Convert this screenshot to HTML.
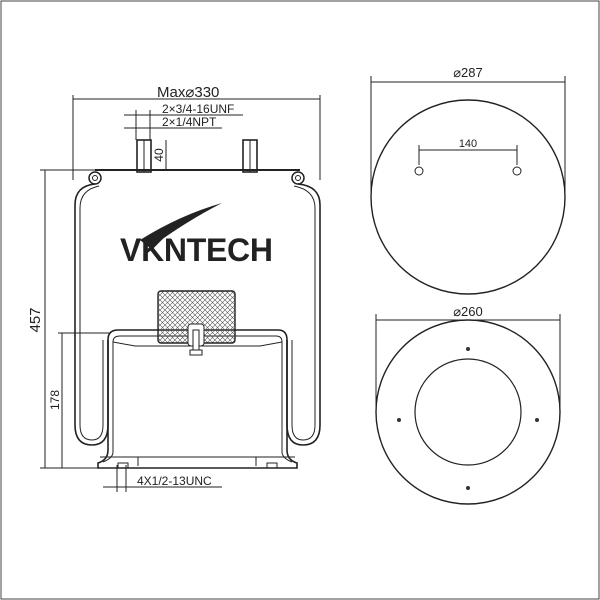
<!DOCTYPE html>
<html><head><style>body{margin:0;background:#fff}svg{display:block}text{font-family:"Liberation Sans",sans-serif;fill:#222}</style></head>
<body>
<svg width="600" height="600" viewBox="0 0 600 600" xmlns="http://www.w3.org/2000/svg">
<defs>
<pattern id="h" width="5" height="5" patternUnits="userSpaceOnUse"><path d="M0 0L5 5M5 0L0 5" stroke="#555" stroke-width="0.6"/></pattern>
</defs>
<rect x="1" y="1" width="598" height="598" fill="none" stroke="#444" stroke-width="1"/>
<g stroke="#222" fill="none" stroke-width="1">
<line x1="73" y1="99" x2="320" y2="99"/><line x1="73" y1="95" x2="73" y2="180"/><line x1="320" y1="95" x2="320" y2="180"/>
<line x1="124" y1="115" x2="243" y2="115"/><line x1="124" y1="128" x2="222" y2="128"/>
<line x1="136" y1="110" x2="136" y2="140"/><line x1="150" y1="110" x2="150" y2="140"/>
<line x1="166" y1="140" x2="166" y2="170"/>
<line x1="40" y1="170" x2="100" y2="170"/><line x1="45" y1="170" x2="45" y2="468"/><line x1="40" y1="468" x2="100" y2="468"/>
<line x1="58" y1="333" x2="110" y2="333"/><line x1="62" y1="333" x2="62" y2="468"/>
<line x1="95" y1="170" x2="300" y2="170" stroke-width="2"/>
<rect x="137" y="140" width="14" height="32" stroke-width="1.6"/><line x1="144" y1="140" x2="144" y2="172"/>
<rect x="243" y="140" width="14" height="32" stroke-width="1.6"/><line x1="250" y1="140" x2="250" y2="172"/>
<circle cx="95" cy="178" r="6" stroke-width="1.5"/><circle cx="95" cy="178" r="2.5"/>
<circle cx="298" cy="178" r="6" stroke-width="1.5"/><circle cx="298" cy="178" r="2.5"/>
<path d="M95 184 Q75 186 75 205 L75 425 Q75 445 92 445 Q108 445 108 425 L108 340" stroke-width="1.6"/>
<path d="M99 186 Q80 190 80 208 L80 425 Q80 440 92 440 Q103 440 103 425 L103 340"/>
<path d="M298 184 Q320 186 320 205 L320 425 Q320 445 303 445 Q287 445 287 425 L287 340" stroke-width="1.6"/>
<path d="M294 186 Q315 190 315 208 L315 425 Q315 440 303 440 Q292 440 292 425 L292 340"/>
<path d="M108 340 Q108 330 118 330 L278 330 Q287 330 287 340" stroke-width="1.6"/>
<path d="M113 342 Q113 336 120 336 L276 336 Q282 336 282 342"/>
<path d="M113 342 L135 346 L260 346 L282 342"/>
<path d="M108 340 L108 450 Q108 460 98 463 L98 468 L297 468 L297 463 Q287 460 287 450 L287 340" stroke-width="1.6"/>
<path d="M113 342 L113 452 Q113 458 103 462"/><path d="M282 342 L282 452 Q282 458 292 462"/>
<line x1="100" y1="457" x2="295" y2="457"/><line x1="138" y1="457" x2="138" y2="466"/><line x1="256" y1="457" x2="256" y2="466"/>
<rect x="118" y="463" width="10" height="5"/><rect x="267" y="463" width="10" height="5"/>
<rect x="158" y="291" width="77" height="52" rx="3" fill="url(#h)" stroke-width="1.4"/>
<rect x="188" y="324" width="16" height="22" rx="3" fill="#fff"/><rect x="193" y="330" width="6" height="20" fill="#fff"/>
<rect x="190" y="350" width="12" height="5"/>
<line x1="103" y1="487" x2="222" y2="487"/><line x1="117" y1="465" x2="117" y2="492"/><line x1="126" y1="465" x2="126" y2="492"/>
<line x1="371" y1="82" x2="565" y2="82"/><line x1="371" y1="76" x2="371" y2="195"/><line x1="565" y1="76" x2="565" y2="195"/>
<circle cx="468" cy="197" r="97" stroke-width="1.4"/>
<line x1="419" y1="150" x2="517" y2="150"/><line x1="419" y1="145" x2="419" y2="165"/><line x1="517" y1="145" x2="517" y2="165"/>
<circle cx="419" cy="171" r="4"/><circle cx="517" cy="171" r="4"/>
<line x1="376" y1="320" x2="560" y2="320"/><line x1="376" y1="314" x2="376" y2="412"/><line x1="560" y1="314" x2="560" y2="412"/>
<circle cx="468" cy="412" r="92" stroke-width="1.4"/>
<circle cx="468" cy="412" r="53" stroke-width="1.2"/>
</g>
<g fill="#333"><circle cx="468" cy="349" r="2"/><circle cx="468" cy="488" r="2"/><circle cx="399" cy="420" r="2"/><circle cx="537" cy="420" r="2"/></g>
<text x="157" y="97" font-size="15">Max⌀330</text>
<text x="162" y="113" font-size="12">2×3/4-16UNF</text>
<text x="162" y="126" font-size="12">2×1/4NPT</text>
<text x="163" y="155" font-size="12" transform="rotate(-90 163 155)" text-anchor="middle">40</text>
<text x="40" y="320" font-size="15" transform="rotate(-90 40 320)" text-anchor="middle">457</text>
<text x="59" y="400" font-size="12" transform="rotate(-90 59 400)" text-anchor="middle">178</text>
<text x="137" y="485" font-size="12">4X1/2-13UNC</text>
<text x="468" y="77" font-size="13" text-anchor="middle">⌀287</text>
<text x="468" y="147" font-size="11" text-anchor="middle">140</text>
<text x="468" y="316" font-size="13" text-anchor="middle">⌀260</text>
<text x="120" y="261" font-size="32" font-weight="bold" style="fill:#222" textLength="153">VKNTECH</text>
<path d="M140 240 Q180 215 222 203 Q185 222 150 248 Z" fill="#222"/>
</svg>
</body></html>
